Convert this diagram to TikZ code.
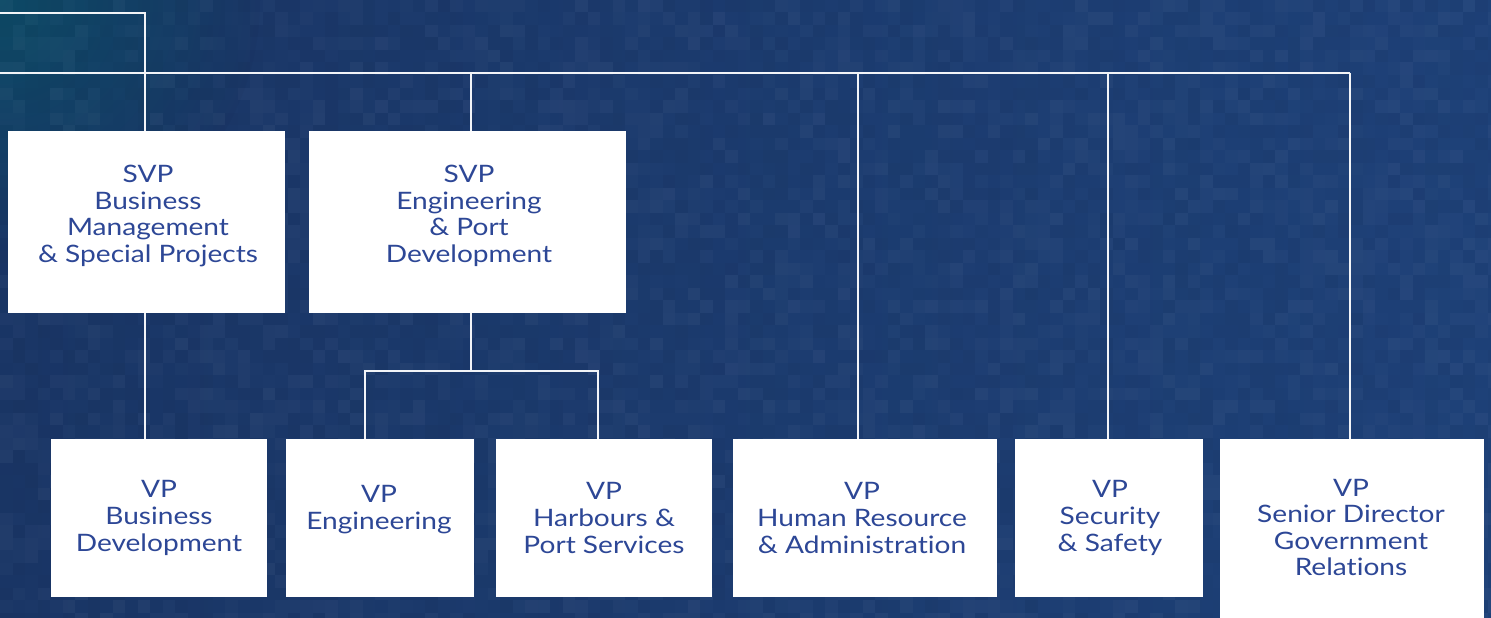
\documentclass[tikz,border=0pt]{standalone}
\usepackage{fontspec}
\setmainfont{Lato}[FakeStretch=1.17,Ligatures=CommonOff]
\begin{document}
\definecolor{bgbase}{HTML}{1A3666}
\definecolor{bgteal}{HTML}{0C4D66}
\definecolor{bglight}{HTML}{1E4178}
\definecolor{txtblue}{HTML}{2D4796}
\definecolor{wire}{HTML}{F2F4F8}
\begin{tikzpicture}[x=1pt,y=-1pt,
  card/.style={draw=none,fill=white,inner sep=0pt,minimum width=#1},
  caption/.style={text=txtblue,align=center,font=\fontsize{24}{26.6}\selectfont,inner sep=0pt},
  wirestyle/.style={draw=wire,line width=2.8pt}]
  % backdrop
  \useasboundingbox (0,0) rectangle (1491,618);
  \shade[left color=bgbase,right color=bglight] (0,0) rectangle (1491,618);
  \begin{scope}
    \clip (0,0) rectangle (1491,618);
    \shade[inner color=bgteal,outer color=bgbase,opacity=0.9] (0,0) circle (260);
  \end{scope}
  % mosaic tiles
  \pgfmathsetseed{7}
  \foreach \i in {0,...,119}{
    \foreach \j in {0,...,49}{
      \pgfmathsetmacro{\r}{rnd}
      \pgfmathsetmacro{\op}{abs(\r-0.5)*0.07}
      \ifdim \r pt>0.5pt
        \fill[white,opacity=\op] (\i*12.5,\j*12.5) rectangle ++(12.5,12.5);
      \else
        \fill[black,opacity=\op] (\i*12.5,\j*12.5) rectangle ++(12.5,12.5);
      \fi
    }
  }

  % boxes
  \node[card=277pt,minimum height=182pt] (sbm)  at (146.5,222) {};
  \node[card=317pt,minimum height=182pt] (seng) at (467.5,222) {};
  \node[card=216pt,minimum height=158pt] (vbd)  at (159,518) {};
  \node[card=188pt,minimum height=158pt] (veng) at (380,518) {};
  \node[card=216pt,minimum height=158pt] (vhar) at (604,518) {};
  \node[card=264pt,minimum height=158pt] (vhr)  at (865,518) {};
  \node[card=188pt,minimum height=158pt] (vsec) at (1109,518) {};
  \node[card=264pt,minimum height=200pt] (vgov) at (1352,539) {};

  % captions
  \node[caption] (tsbm)  at (148,216) {SVP\\Business\\Management\\\& Special Projects};
  \node[caption] (tseng) at (469,216) {SVP\\Engineering\\\& Port\\Development};
  \node[caption] (tvbd)  at (159,518) {VP\\Business\\Development};
  \node[caption] (tveng) at (379,509.5) {VP\\Engineering};
  \node[caption] (tvhar) at (604,518) {VP\\Harbours \&\\Port Services};
  \node[caption] (tvhr)  at (862,518) {VP\\Human Resource\\\& Administration};
  \node[caption] (tvsec) at (1110,518) {VP\\Security\\\& Safety};
  \node[caption] (tvgov) at (1351,527.5) {VP\\Senior Director\\Government\\Relations};

  % junctions on the reporting lines
  \coordinate (feed)  at (0,13);
  \coordinate (bend)  at (145,13);
  \coordinate (busL)  at (0,73);
  \coordinate (j1)    at (145,73);
  \coordinate (j2)    at (471,73);
  \coordinate (j3)    at (858,73);
  \coordinate (j4)    at (1108,73);
  \coordinate (busR)  at (1350,73);
  \coordinate (split) at (471,371);
  \coordinate (subL)  at (365,371);
  \coordinate (subR)  at (598,371);

  % reporting lines
  \draw[wirestyle] (feed) -- (bend) -- (j1);
  \draw[wirestyle] (busL) -- (busR);
  \draw[wirestyle] (j1) -- (j1 |- sbm.north);
  \draw[wirestyle] (j2) -- (j2 |- seng.north);
  \draw[wirestyle] (j3) -- (j3 |- vhr.north);
  \draw[wirestyle] (j4) -- (j4 |- vsec.north);
  \draw[wirestyle] (busR) -- (busR |- vgov.north);
  \draw[wirestyle] (j1 |- sbm.south) -- (j1 |- vbd.north);
  \draw[wirestyle] (split |- seng.south) -- (split);
  \draw[wirestyle] (subL |- veng.north) -- (subL) -- (subR) -- (subR |- vhar.north);
\end{tikzpicture}
\end{document}
